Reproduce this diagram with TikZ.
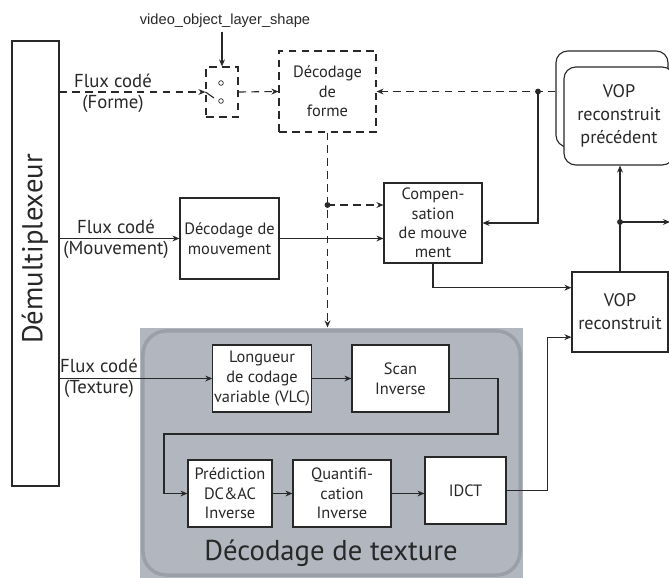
\documentclass[tikz,border=0pt]{standalone}
\usepackage{fontspec}
\setmainfont{PT Sans}
\newfontfamily\arialfont{Liberation Sans}
\usetikzlibrary{arrows.meta,calc}

\definecolor{gris}{RGB}{178,183,191}
\definecolor{grisfonce}{RGB}{155,160,168}
\definecolor{trait}{RGB}{40,40,40}

\tikzset{
  bloc/.style={draw=trait,fill=white,align=center,inner sep=1pt,
    font=\fontsize{14}{16.8}\selectfont},
  taille/.style 2 args={minimum width=#1*0.03cm,minimum height=#2*0.03cm},
  flux/.style={align=center,font=\fontsize{16}{18}\selectfont},
  tirets/.style={dash pattern=on 6.5pt off 4.5pt},
  vop/.style={font=\fontsize{15.5}{19.5}\selectfont},
}

\begin{document}
\begin{tikzpicture}[x=0.03cm,y=-0.03cm,line width=0.95pt,>={Stealth[length=6pt,width=5pt]},color=trait]
\useasboundingbox (0,0) rectangle (669,577);

% zone de decodage de texture
\node[fill=gris,taille={383}{250},inner sep=0pt] (texzone) at (331.5,453) {};
\draw[grisfonce,line width=3pt,rounded corners=20pt]
  ($(texzone.north west)+(3.5,3.5)$) rectangle ($(texzone.south east)+(-3.5,-3.5)$);
\node[font=\fontsize{24.5}{28}\selectfont] (textitre) at (331,553) {Décodage de texture};

% demultiplexeur
\node[draw,taille={47}{445}] (demux) at (35.5,263.5) {};
\node[rotate=90,font=\fontsize{24.5}{28}\selectfont] (demuxtxt) at (35,249) {Démultiplexeur};

% interrupteur de forme
\node[font=\arialfont\fontsize{12.5}{14}\selectfont] (vols) at (225,21) {video\_object\_layer\_shape};
\node[draw,tirets,taille={32}{50}] (sw) at (222,92) {};
\draw[line width=0.6pt] (221,83) circle (2pt) (221,101) circle (2pt);
\draw (sw.west) -- (214,98);

% blocs
\node[bloc,tirets,taille={97}{81}] (forme) at (327.5,91.5) {Décodage\\de\\forme};
\node[draw,fill=white,rounded corners=10pt,taille={112}{96}] (precb) at (612,99) {};
\node[draw,fill=white,rounded corners=10pt,taille={110}{98},align=center,vop] (prec) at (619,116) {VOP\\reconstruit\\précédent};
\node[bloc,taille={99}{81}] (mvt) at (229.5,238.5) {Décodage de\\mouvement};
\node[bloc,taille={98}{80},font=\fontsize{14}{16.5}\selectfont] (comp) at (433,223) {Compen-\\sation\\de mouve\\ment};
\node[bloc,taille={96}{80},vop] (vop) at (620,312) {VOP\\reconstruit};
\node[bloc,taille={98}{67}] (vlc) at (262,378.5) {Longueur\\de codage\\variable (VLC)};
\node[bloc,taille={97}{67}] (scan) at (400.5,378.5) {Scan\\Inverse};
\node[bloc,taille={84}{67}] (pred) at (230,493.5) {Prédiction\\DC\&AC\\Inverse};
\node[bloc,taille={98}{67}] (quant) at (342,493.5) {Quantifi-\\cation\\Inverse};
\node[bloc,taille={81}{67}] (idct) at (465.5,490.5) {IDCT};

% libelles des flux
\node[flux] (fforme) at (113,93) {Flux codé\\(Forme)};
\node[flux] (fmvt) at (116,239) {Flux codé\\(Mouvement)};
\node[flux] (ftex) at (99,378) {Flux codé\\(Texture)};

% points de jonction
\coordinate (j1) at (538,91.5);
\coordinate (j2) at (327.5,205);
\coordinate (j3) at (620,222);
\coordinate (bord) at (670,222);
\coordinate (c1) at (498,434);
\coordinate (c2) at (164,434);
\coordinate (vopin1) at ($(vop.north west)!0.2!(vop.south west)$);
\coordinate (vopin2) at ($(vop.north west)!0.81!(vop.south west)$);

% forme
\draw[->] (vols.south -| sw.north) -- (sw.north);
\draw[->,tirets] (demux.east |- sw.west) -- (sw.west);
\draw[->,tirets] (sw.east) -- (forme.west);
\draw[->,tirets] (precb.west |- forme.east) -- (forme.east);
\draw[->,tirets] (forme.south) -- (forme.south |- texzone.north);
\draw[->,tirets] (j2) -- (j2 -| comp.west);
\fill (j1) circle (2.5pt) (j2) circle (2.5pt) (j3) circle (2.5pt);

% mouvement
\draw[->] (demux.east |- mvt.west) -- (mvt.west);
\draw[->] (mvt.east) -- (mvt.east -| comp.west);
\draw[->] (j1) |- (comp.east);
\draw[->] (comp.south) |- (vopin1);
\draw[->] (vop.north) -- (vop.north |- prec.south);
\draw[->] (j3) -- (bord);

% texture
\draw[->] (demux.east |- vlc.west) -- (vlc.west);
\draw[->] (vlc) -- (scan);
\draw[->] (scan.east) -| (c1) -- (c2) |- (pred.west);
\draw[->] (pred) -- (quant);
\draw[->] (quant.east) -- (quant.east -| idct.west);
\draw[->] (idct.east) -- ++(41,0) |- (vopin2);
\end{tikzpicture}
\end{document}
